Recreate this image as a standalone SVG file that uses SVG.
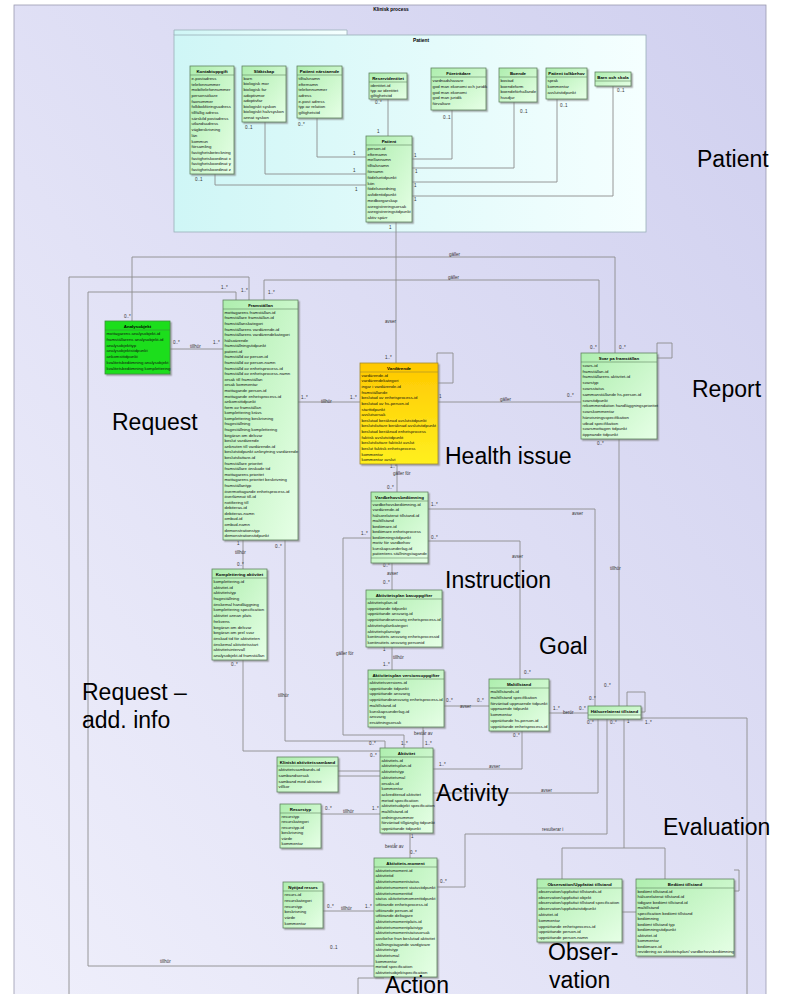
<svg xmlns="http://www.w3.org/2000/svg" width="786" height="994" viewBox="0 0 786 994">
<defs>
<linearGradient id="bg" x1="1" y1="0" x2="0" y2="1"><stop offset="0" stop-color="#d0d0ef"/><stop offset="1" stop-color="#efeffb"/></linearGradient>
<linearGradient id="pk" x1="0" y1="0" x2="1" y2="0"><stop offset="0" stop-color="#cff6f6"/><stop offset="1" stop-color="#f5ffff"/></linearGradient>
<linearGradient id="gr" x1="0" y1="0" x2="1" y2="1"><stop offset="0" stop-color="#aeeeae"/><stop offset="1" stop-color="#e6ffe6"/></linearGradient>
<linearGradient id="ye" x1="0" y1="0" x2="0" y2="1"><stop offset="0" stop-color="#ffc800"/><stop offset="1" stop-color="#fff020"/></linearGradient>
<filter id="sh" x="-10%" y="-10%" width="130%" height="130%"><feDropShadow dx="1.5" dy="1.5" stdDeviation="0.6" flood-color="#777" flood-opacity="0.6"/></filter>
<style>
.bx{fill:url(#gr);stroke:#5f835f;stroke-width:0.8;filter:url(#sh)}
.bx2{fill:#1ede1e;stroke:#3a8f3a;stroke-width:0.8;filter:url(#sh)}
.bx3{fill:url(#ye);stroke:#a08a30;stroke-width:0.8;filter:url(#sh)}
.sep{stroke:#5f835f;stroke-width:0.6}
.hd{font-family:"Liberation Sans",Arial,sans-serif;font-weight:bold;font-size:4.4px;text-anchor:middle;fill:#000}
.at{font-family:"Liberation Sans",Arial,sans-serif;font-size:4.3px;fill:#111}
.ml{font-family:"Liberation Sans",Arial,sans-serif;font-size:4.5px;fill:#333}
.big{font-family:"Liberation Sans",Arial,sans-serif;font-size:23px;fill:#000}
.ln{fill:none;stroke:#8c8c8c;stroke-width:0.9}
</style>
</defs>
<rect x="0" y="0" width="786" height="994" fill="#ffffff"/>
<rect x="14" y="5" width="752" height="995" fill="url(#bg)" stroke="#9a9ab0" stroke-width="0.8"/>
<text x="391" y="11" class="hd" style="font-size:4.8px">Klinisk process</text>

<g id="pkg-patient">
<path d="M174 35 V30 H347 V35" fill="url(#pk)" stroke="#9ab0b8" stroke-width="0.8"/>
<rect x="174" y="35" width="472" height="197" fill="url(#pk)" stroke="#9ab0b8" stroke-width="0.8"/>
<text x="413" y="42" class="hd" style="text-anchor:start;font-size:4.8px">Patient</text>
</g>

<g id="connectors">
<path class="ln" d="M215 174 V185 H366"/>
<path class="ln" d="M265 122 V174 H366"/>
<path class="ln" d="M317 118 V157 H366"/>
<path class="ln" d="M388 99 V136"/>
<path class="ln" d="M452 110 V159 H412"/>
<path class="ln" d="M514 102 V168 H412"/>
<path class="ln" d="M557 99 V182 H412"/>
<path class="ln" d="M613 86 V196 H412"/>
<path class="ln" d="M396 222 V363"/>
<path class="ln" d="M132 321 V257 H615 V353"/>
<path class="ln" d="M264 300 V280 H599 V353"/>
<path class="ln" d="M236 300 V292 H88 V966 H374"/>
<path class="ln" d="M249 300 V277 H69 V994"/>
<path class="ln" d="M170 349 H223"/>
<path class="ln" d="M298 402 H360"/>
<path class="ln" d="M438 402 H581"/>
<path class="ln" d="M437 363 V353 H453 V383 H438"/>
<path class="ln" d="M657 353 V343 H672 V358 H657"/>
<path class="ln" d="M397 464 V492"/>
<path class="ln" d="M392 563 V590"/>
<path class="ln" d="M392 647 V670"/>
<path class="ln" d="M243 540 V569"/>
<path class="ln" d="M243 660 V751 H380"/>
<path class="ln" d="M285 540 V741 H385 V748"/>
<path class="ln" d="M371 538 H343 V735 H404 V748"/>
<path class="ln" d="M423 727 V748"/>
<path class="ln" d="M428 509 H595 V706"/>
<path class="ln" d="M428 541 H520 V679"/>
<path class="ln" d="M619 439 V706"/>
<path class="ln" d="M444 706 H489"/>
<path class="ln" d="M549 713 H588"/>
<path class="ln" d="M433 769 H522 V731"/>
<path class="ln" d="M433 793 H598 V719"/>
<path class="ln" d="M437 887 H465 V834 H607 V719"/>
<path class="ln" d="M624 719 V848 M562 848 H665 M562 848 V879 M665 848 V879"/>
<path class="ln" d="M622 912 H636"/>
<path class="ln" d="M641 718 H747 V994"/>
<path class="ln" d="M627 706 V692 H645 V712 H641"/>
<path class="ln" d="M338 771 H380 M338 776 H380"/>
<path class="ln" d="M321 814 H380"/>
<path class="ln" d="M410 833 V858"/>
<path class="ln" d="M323 911 H374"/>
<path class="ln" d="M734 870 H739 V891 H734"/>
<path class="ln" d="M358 994 V978 H384"/>
</g>

<g id="labels">
<text class="ml" x="195" y="181">0..1</text>
<text class="ml" x="245" y="129">0..1</text>
<text class="ml" x="298" y="126">0..*</text>
<text class="ml" x="375" y="104">0..*</text>
<text class="ml" x="377" y="133">1</text>
<text class="ml" x="353" y="155">1</text>
<text class="ml" x="353" y="172">1</text>
<text class="ml" x="355" y="191">1</text>
<text class="ml" x="443" y="119">0..1</text>
<text class="ml" x="520" y="113">0..1</text>
<text class="ml" x="560" y="107">0..1</text>
<text class="ml" x="617" y="92">0..1</text>
<text class="ml" x="414" y="157">1</text>
<text class="ml" x="415" y="173">1</text>
<text class="ml" x="414" y="187">1</text>
<text class="ml" x="414" y="201">1</text>
<text class="ml" x="389" y="229">1</text>
<text class="ml" x="385" y="323">avser</text>
<text class="ml" x="385" y="359">1..*</text>
<text class="ml" x="124" y="318">0..*</text>
<text class="ml" x="449" y="256">gäller</text>
<text class="ml" x="619" y="349">0..*</text>
<text class="ml" x="268" y="294">1..*</text>
<text class="ml" x="448" y="279">gäller</text>
<text class="ml" x="590" y="349">0..*</text>
<text class="ml" x="221" y="289">1..*</text>
<text class="ml" x="241" y="292">1..*</text>
<text class="ml" x="160" y="963">tillhör</text>
<text class="ml" x="330" y="949">0..1</text>
<text class="ml" x="173" y="344">0..*</text>
<text class="ml" x="190" y="348">tillhör</text>
<text class="ml" x="213" y="344">1..*</text>
<text class="ml" x="301" y="399">1..*</text>
<text class="ml" x="321" y="403">tillhör</text>
<text class="ml" x="350" y="399">1..*</text>
<text class="ml" x="439" y="398">1</text>
<text class="ml" x="500" y="401">gäller</text>
<text class="ml" x="567" y="397">0..*</text>
<text class="ml" x="390" y="468">1..*</text>
<text class="ml" x="393" y="475">gäller för</text>
<text class="ml" x="387" y="489">0..*</text>
<text class="ml" x="383" y="567">0..*</text>
<text class="ml" x="387" y="575">avser</text>
<text class="ml" x="383" y="584">0..*</text>
<text class="ml" x="383" y="651">1</text>
<text class="ml" x="393" y="659">tillhör</text>
<text class="ml" x="383" y="666">1..*</text>
<text class="ml" x="237" y="545">1</text>
<text class="ml" x="235" y="554">tillhör</text>
<text class="ml" x="237" y="566">0..*</text>
<text class="ml" x="231" y="666">0..*</text>
<text class="ml" x="370" y="757">0..*</text>
<text class="ml" x="275" y="548">0..*</text>
<text class="ml" x="278" y="697">tillhör</text>
<text class="ml" x="369" y="745">0..*</text>
<text class="ml" x="361" y="535">1..*</text>
<text class="ml" x="336" y="655">gäller för</text>
<text class="ml" x="401" y="745">1..*</text>
<text class="ml" x="414" y="735">består av</text>
<text class="ml" x="425" y="745">1..*</text>
<text class="ml" x="431" y="506">1..*</text>
<text class="ml" x="572" y="515">avser</text>
<text class="ml" x="589" y="700">0..*</text>
<text class="ml" x="431" y="539">0..*</text>
<text class="ml" x="512" y="558">avser</text>
<text class="ml" x="524" y="674">0..*</text>
<text class="ml" x="597" y="445">0..*</text>
<text class="ml" x="610" y="570">tillhör</text>
<text class="ml" x="604" y="687">0..*</text>
<text class="ml" x="446" y="702">0..*</text>
<text class="ml" x="460" y="708">avser</text>
<text class="ml" x="477" y="702">0..*</text>
<text class="ml" x="553" y="710">1..*</text>
<text class="ml" x="563" y="714">berör</text>
<text class="ml" x="579" y="710">0..*</text>
<text class="ml" x="439" y="766">1..*</text>
<text class="ml" x="489" y="768">avser</text>
<text class="ml" x="513" y="737">0..*</text>
<text class="ml" x="541" y="792">avser</text>
<text class="ml" x="587" y="724">0..*</text>
<text class="ml" x="440" y="883">0..*</text>
<text class="ml" x="542" y="831">resulterar i</text>
<text class="ml" x="610" y="724">0..*</text>
<text class="ml" x="627" y="723">1</text>
<text class="ml" x="645" y="724">1..*</text>
<text class="ml" x="325" y="810">0..*</text>
<text class="ml" x="343" y="813">tillhör</text>
<text class="ml" x="372" y="810">1..*</text>
<text class="ml" x="411" y="838">1</text>
<text class="ml" x="385" y="848">består av</text>
<text class="ml" x="410" y="854">0..*</text>
<text class="ml" x="327" y="908">0..*</text>
<text class="ml" x="341" y="910">tillhör</text>
<text class="ml" x="365" y="908">1..*</text>
</g>

<g id="n-kontaktuppgift">
<rect class="bx" x="190" y="66" width="44" height="108"/>
<text class="hd" x="212" y="72.5">Kontaktuppgift</text>
<line class="sep" x1="190" y1="75" x2="234" y2="75"/>
<text class="at" y="79.8"><tspan x="191.5">e-postadress</tspan><tspan x="191.5" dy="5.7">telefonnummer</tspan><tspan x="191.5" dy="5.7">mobiltelefonnummer</tspan><tspan x="191.5" dy="5.7">personsökare</tspan><tspan x="191.5" dy="5.7">faxnummer</tspan><tspan x="191.5" dy="5.7">folkbokföringsadress</tspan><tspan x="191.5" dy="5.7">tillfällig adress</tspan><tspan x="191.5" dy="5.7">särskild postadress</tspan><tspan x="191.5" dy="5.7">utlandsadress</tspan><tspan x="191.5" dy="5.7">vägbeskrivning</tspan><tspan x="191.5" dy="5.7">län</tspan><tspan x="191.5" dy="5.7">kommun</tspan><tspan x="191.5" dy="5.7">församling</tspan><tspan x="191.5" dy="5.7">fastighetsbeteckning</tspan><tspan x="191.5" dy="5.7">fastighetskoordinat x</tspan><tspan x="191.5" dy="5.7">fastighetskoordinat y</tspan><tspan x="191.5" dy="5.7">fastighetskoordinat z</tspan></text>
</g>

<g id="n-slaktskap">
<rect class="bx" x="242" y="66" width="44" height="56"/>
<text class="hd" x="264" y="72.5">Släktskap</text>
<line class="sep" x1="242" y1="75" x2="286" y2="75"/>
<text class="at" y="79.8"><tspan x="243.5">barn</tspan><tspan x="243.5" dy="5.6">biologisk mor</tspan><tspan x="243.5" dy="5.6">biologisk far</tspan><tspan x="243.5" dy="5.6">adoptivmor</tspan><tspan x="243.5" dy="5.6">adoptivfar</tspan><tspan x="243.5" dy="5.6">biologiskt syskon</tspan><tspan x="243.5" dy="5.6">biologiskt halvsyskon</tspan><tspan x="243.5" dy="5.6">annat syskon</tspan></text>
</g>

<g id="n-patient-narstaende">
<rect class="bx" x="297" y="66" width="45" height="52"/>
<text class="hd" x="319.5" y="72.5">Patient närstående</text>
<line class="sep" x1="297" y1="75" x2="342" y2="75"/>
<text class="at" y="79.8"><tspan x="298.5">tilltalsnamn</tspan><tspan x="298.5" dy="5.7">efternamn</tspan><tspan x="298.5" dy="5.7">telefonnummer</tspan><tspan x="298.5" dy="5.7">adress</tspan><tspan x="298.5" dy="5.7">e-post adress</tspan><tspan x="298.5" dy="5.7">typ av relation</tspan><tspan x="298.5" dy="5.7">giltighetstid</tspan></text>
</g>

<g id="n-reservidentitet">
<rect class="bx" x="369" y="73" width="38" height="26"/>
<text class="hd" x="388" y="79.5">Reservidentitet</text>
<line class="sep" x1="369" y1="82" x2="407" y2="82"/>
<text class="at" y="86.5"><tspan x="370.5">identitet-id</tspan><tspan x="370.5" dy="5">typ av identitet</tspan><tspan x="370.5" dy="5">giltighetstid</tspan></text>
</g>

<g id="n-patient">
<rect class="bx" x="366" y="136" width="46" height="86"/>
<text class="hd" x="389" y="142.5">Patient</text>
<line class="sep" x1="366" y1="145" x2="412" y2="145"/>
<text class="at" y="149.9"><tspan x="367.5">person-id</tspan><tspan x="367.5" dy="5.77">efternamn</tspan><tspan x="367.5" dy="5.77">mellannamn</tspan><tspan x="367.5" dy="5.77">tilltalsnamn</tspan><tspan x="367.5" dy="5.77">förnamn</tspan><tspan x="367.5" dy="5.77">födelsetidpunkt</tspan><tspan x="367.5" dy="5.77">kön</tspan><tspan x="367.5" dy="5.77">födelseordning</tspan><tspan x="367.5" dy="5.77">avlidentidpunkt</tspan><tspan x="367.5" dy="5.77">medborgarskap</tspan><tspan x="367.5" dy="5.77">avregistreringsorsak</tspan><tspan x="367.5" dy="5.77">avregistreringstidpunkt</tspan><tspan x="367.5" dy="5.77">aktiv spärr</tspan></text>
</g>

<g id="n-foretradare">
<rect class="bx" x="431" y="68" width="55" height="42"/>
<text class="hd" x="458.5" y="74.5">Företrädare</text>
<line class="sep" x1="431" y1="77" x2="486" y2="77"/>
<text class="at" y="81.9"><tspan x="432.5">vårdnadshavare</tspan><tspan x="432.5" dy="5.8">god man ekonomi och juridik</tspan><tspan x="432.5" dy="5.8">god man ekonomi</tspan><tspan x="432.5" dy="5.8">god man juridik</tspan><tspan x="432.5" dy="5.8">förvaltare</tspan></text>
</g>

<g id="n-boende">
<rect class="bx" x="499" y="68" width="38" height="34"/>
<text class="hd" x="518" y="74.5">Boende</text>
<line class="sep" x1="499" y1="77" x2="537" y2="77"/>
<text class="at" y="81.9"><tspan x="500.5">bostad</tspan><tspan x="500.5" dy="5.75">boendeform</tspan><tspan x="500.5" dy="5.75">boendeförhållande</tspan><tspan x="500.5" dy="5.75">husdjur</tspan></text>
</g>

<g id="n-patient-tolkbehov">
<rect class="bx" x="546" y="68" width="41" height="31"/>
<text class="hd" x="566.5" y="74.5">Patient tolkbehov</text>
<line class="sep" x1="546" y1="77" x2="587" y2="77"/>
<text class="at" y="81.9"><tspan x="547.5">språk</tspan><tspan x="547.5" dy="5.8">kommentar</tspan><tspan x="547.5" dy="5.8">avslutstidpunkt</tspan></text>
</g>

<g id="n-barn-och-skola">
<rect class="bx" x="595" y="72" width="36" height="14"/>
<text class="hd" x="613" y="78.5">Barn och skola</text>
<line class="sep" x1="595" y1="81" x2="631" y2="81"/>
</g>

<g id="n-analysobjekt">
<rect class="bx2" x="105" y="321" width="65" height="53"/>
<text class="hd" x="137.5" y="327.5">Analysobjekt</text>
<line class="sep" x1="105" y1="330" x2="170" y2="330" style="stroke:#3a8f3a"/>
<text class="at" y="334.9"><tspan x="106.5">mottagarens analysobjekt-id</tspan><tspan x="106.5" dy="5.8">framställarens analysobjekt-id</tspan><tspan x="106.5" dy="5.8">analysobjekttyp</tspan><tspan x="106.5" dy="5.8">analysobjektstidpunkt</tspan><tspan x="106.5" dy="5.8">ankomsttidpunkt</tspan><tspan x="106.5" dy="5.8">kvalitetsbedömning analysobjekt</tspan><tspan x="106.5" dy="5.8">kvalitetsbedömning komplettering</tspan></text>
</g>

<g id="n-framstallan">
<rect class="bx" x="223" y="300" width="75" height="240"/>
<text class="hd" x="260.5" y="306.5">Framställan</text>
<line class="sep" x1="223" y1="309" x2="298" y2="309"/>
<text class="at" y="313.8"><tspan x="224.5">mottagarens framställan-id</tspan><tspan x="224.5" dy="5.585">framställare framställan-id</tspan><tspan x="224.5" dy="5.585">framställanskategori</tspan><tspan x="224.5" dy="5.585">framställarens vårdärende-id</tspan><tspan x="224.5" dy="5.585">framställarens vårdärendekategori</tspan><tspan x="224.5" dy="5.585">hälsoärende</tspan><tspan x="224.5" dy="5.585">framställningstidpunkt</tspan><tspan x="224.5" dy="5.585">patient-id</tspan><tspan x="224.5" dy="5.585">framställd av person-id</tspan><tspan x="224.5" dy="5.585">framställd av person-namn</tspan><tspan x="224.5" dy="5.585">framställd av enhetsprocess-id</tspan><tspan x="224.5" dy="5.585">framställd av enhetsprocess-namn</tspan><tspan x="224.5" dy="5.585">orsak till framställan</tspan><tspan x="224.5" dy="5.585">orsak kommentar</tspan><tspan x="224.5" dy="5.585">mottagande person-id</tspan><tspan x="224.5" dy="5.585">mottagande enhetsprocess-id</tspan><tspan x="224.5" dy="5.585">ankomsttidpunkt</tspan><tspan x="224.5" dy="5.585">form av framställan</tspan><tspan x="224.5" dy="5.585">komplettering krävs</tspan><tspan x="224.5" dy="5.585">komplettering beskrivning</tspan><tspan x="224.5" dy="5.585">frågeställning</tspan><tspan x="224.5" dy="5.585">frågeställning komplettering</tspan><tspan x="224.5" dy="5.585">begäran om delsvar</tspan><tspan x="224.5" dy="5.585">beslut vårdärende</tspan><tspan x="224.5" dy="5.585">anknuten till vårdärende-id</tspan><tspan x="224.5" dy="5.585">beslutstidpunkt anknytning vårdärende</tspan><tspan x="224.5" dy="5.585">beslutsfattare-id</tspan><tspan x="224.5" dy="5.585">framställare prioritet</tspan><tspan x="224.5" dy="5.585">framställare önskade tid</tspan><tspan x="224.5" dy="5.585">mottagarens prioritet</tspan><tspan x="224.5" dy="5.585">mottagarens prioritet beskrivning</tspan><tspan x="224.5" dy="5.585">framställantyp</tspan><tspan x="224.5" dy="5.585">övermottagande enhetsprocess-id</tspan><tspan x="224.5" dy="5.585">överlämnat till-id</tspan><tspan x="224.5" dy="5.585">notifiering till</tspan><tspan x="224.5" dy="5.585">debiteras-id</tspan><tspan x="224.5" dy="5.585">debiteras-namn</tspan><tspan x="224.5" dy="5.585">ombud-id</tspan><tspan x="224.5" dy="5.585">ombud-namn</tspan><tspan x="224.5" dy="5.585">demonstrationstyp</tspan><tspan x="224.5" dy="5.585">demonstrationstidpunkt</tspan></text>
</g>

<g id="n-vardarende">
<rect class="bx3" x="360" y="363" width="78" height="101"/>
<text class="hd" x="399" y="369.5">Vårdärende</text>
<line class="sep" x1="360" y1="372" x2="438" y2="372" style="stroke:#a08a30"/>
<text class="at" y="376.8"><tspan x="361.5">vårdärende-id</tspan><tspan x="361.5" dy="5.625">vårdärendekategori</tspan><tspan x="361.5" dy="5.625">ingår i vårdärende-id</tspan><tspan x="361.5" dy="5.625">framställande</tspan><tspan x="361.5" dy="5.625">beslutad av enhetsprocess-id</tspan><tspan x="361.5" dy="5.625">beslutad av hs-person-id</tspan><tspan x="361.5" dy="5.625">starttidpunkt</tspan><tspan x="361.5" dy="5.625">avslutsorsak</tspan><tspan x="361.5" dy="5.625">beslutad beräknad avslutstidpunkt</tspan><tspan x="361.5" dy="5.625">beslutsfattare beräknad avslutstidpunkt</tspan><tspan x="361.5" dy="5.625">beslutad beräknad enhetsprocess</tspan><tspan x="361.5" dy="5.625">faktisk avslutstidpunkt</tspan><tspan x="361.5" dy="5.625">beslutsfattare faktiskt avslut</tspan><tspan x="361.5" dy="5.625">beslut faktisk enhetsprocess</tspan><tspan x="361.5" dy="5.625">kommentar</tspan><tspan x="361.5" dy="5.625">kommentar avslut</tspan></text>
</g>

<g id="n-svar">
<rect class="bx" x="581" y="353" width="76" height="86"/>
<text class="hd" x="619" y="359.5">Svar på framställan</text>
<line class="sep" x1="581" y1="362" x2="657" y2="362"/>
<text class="at" y="366.9"><tspan x="582.5">svars-id</tspan><tspan x="582.5" dy="5.77">framställan-id</tspan><tspan x="582.5" dy="5.77">framställarens aktivitet-id</tspan><tspan x="582.5" dy="5.77">svarstyp</tspan><tspan x="582.5" dy="5.77">svarsstatus</tspan><tspan x="582.5" dy="5.77">sammanställande hs-person-id</tspan><tspan x="582.5" dy="5.77">svarstidpunkt</tspan><tspan x="582.5" dy="5.77">rekommendation handläggningsprioritet</tspan><tspan x="582.5" dy="5.77">svarskommentar</tspan><tspan x="582.5" dy="5.77">hänvisningsspecifikation</tspan><tspan x="582.5" dy="5.77">utbud specifikation</tspan><tspan x="582.5" dy="5.77">svarsmottagen tidpunkt</tspan><tspan x="582.5" dy="5.77">öppnande tidpunkt</tspan></text>
</g>

<g id="n-vardbehovsbedomning">
<rect class="bx" x="371" y="492" width="57" height="71"/>
<text class="hd" x="399.5" y="498.5">Vårdbehovsbedömning</text>
<line class="sep" x1="371" y1="501" x2="428" y2="501"/>
<text class="at" y="505.7"><tspan x="372.5">vårdbehovsbedömning-id</tspan><tspan x="372.5" dy="5.5">vårdärende-id</tspan><tspan x="372.5" dy="5.5">hälsorelaterat tillstånd-id</tspan><tspan x="372.5" dy="5.5">måltillstånd</tspan><tspan x="372.5" dy="5.5">bedömare-id</tspan><tspan x="372.5" dy="5.5">bedömare enhetsprocess</tspan><tspan x="372.5" dy="5.5">bedömningstidpunkt</tspan><tspan x="372.5" dy="5.5">motiv för vårdbehov</tspan><tspan x="372.5" dy="5.5">kunskapsunderlag-id</tspan><tspan x="372.5" dy="5.5">patientens ställningstagande</tspan></text>
<line class="sep" x1="371" y1="558" x2="428" y2="558"/>
</g>

<g id="n-aktivitetsplan-bas">
<rect class="bx" x="366" y="590" width="76" height="57"/>
<text class="hd" x="404" y="596.5">Aktivitetsplan basuppgifter</text>
<line class="sep" x1="366" y1="599" x2="442" y2="599"/>
<text class="at" y="603.9"><tspan x="367.5">aktivitetsplan-id</tspan><tspan x="367.5" dy="5.75">upprättande tidpunkt</tspan><tspan x="367.5" dy="5.75">upprättande ansvarig-id</tspan><tspan x="367.5" dy="5.75">upprättandeansvarig enhetsprocess-id</tspan><tspan x="367.5" dy="5.75">aktivitetsplankategori</tspan><tspan x="367.5" dy="5.75">aktivitetsplanstyp</tspan><tspan x="367.5" dy="5.75">kontinuitets ansvarig enhetsprocessid</tspan><tspan x="367.5" dy="5.75">kontinuitets ansvarig personid</tspan></text>
</g>

<g id="n-aktivitetsplan-version">
<rect class="bx" x="368" y="670" width="76" height="57"/>
<text class="hd" x="406" y="676.5">Aktivitetsplan versionsuppgifter</text>
<line class="sep" x1="368" y1="679" x2="444" y2="679"/>
<text class="at" y="683.9"><tspan x="369.5">aktivitetsversions-id</tspan><tspan x="369.5" dy="5.75">upprättande tidpunkt</tspan><tspan x="369.5" dy="5.75">upprättande ansvarig</tspan><tspan x="369.5" dy="5.75">upprättandeansvarig enhetsprocess-id</tspan><tspan x="369.5" dy="5.75">måltillstånd-id</tspan><tspan x="369.5" dy="5.75">kunskapsunderlag-id</tspan><tspan x="369.5" dy="5.75">ansvarig</tspan><tspan x="369.5" dy="5.75">ersättningsorsak</tspan></text>
</g>

<g id="n-maltillstand">
<rect class="bx" x="489" y="679" width="60" height="52"/>
<text class="hd" x="519" y="685.5">Måltillstånd</text>
<line class="sep" x1="489" y1="688" x2="549" y2="688"/>
<text class="at" y="692.9"><tspan x="490.5">måltillstånds-id</tspan><tspan x="490.5" dy="5.86">måltillstånd specifikation</tspan><tspan x="490.5" dy="5.86">förväntad uppnående tidpunkt</tspan><tspan x="490.5" dy="5.86">uppnående tidpunkt</tspan><tspan x="490.5" dy="5.86">kommentar</tspan><tspan x="490.5" dy="5.86">upprättande hs-person-id</tspan><tspan x="490.5" dy="5.86">upprättande enhetsprocess-id</tspan></text>
</g>

<g id="n-halsorelaterat-tillstand">
<rect class="bx" x="588" y="706" width="53" height="13"/>
<text class="hd" x="614.5" y="712.5">Hälsorelaterat tillstånd</text>
<line class="sep" x1="588" y1="715" x2="641" y2="715"/>
</g>

<g id="n-observation">
<rect class="bx" x="537" y="879" width="85" height="63"/>
<text class="hd" x="579.5" y="885.5">Observation/Uppfattat tillstånd</text>
<line class="sep" x1="537" y1="888" x2="622" y2="888"/>
<text class="at" y="892.9"><tspan x="538.5">observation/uppfattat tillstånds-id</tspan><tspan x="538.5" dy="5.78">observation/uppfattat objekt</tspan><tspan x="538.5" dy="5.78">observation/uppfattat tillstånd specification</tspan><tspan x="538.5" dy="5.78">observation/uppfattatstidpunkt</tspan><tspan x="538.5" dy="5.78">aktivitet-id</tspan><tspan x="538.5" dy="5.78">kommentar</tspan><tspan x="538.5" dy="5.78">upprättande enhetsprocess-id</tspan><tspan x="538.5" dy="5.78">upprättande person-id</tspan><tspan x="538.5" dy="5.78">upprättande person-namn</tspan></text>
</g>

<g id="n-bedomt-tillstand">
<rect class="bx" x="636" y="879" width="98" height="77"/>
<text class="hd" x="685" y="885.5">Bedömt tillstånd</text>
<line class="sep" x1="636" y1="888" x2="734" y2="888"/>
<text class="at" y="892.7"><tspan x="637.5">bedömt tillstånd-id</tspan><tspan x="637.5" dy="5.5">hälsorelaterat tillstånd-id</tspan><tspan x="637.5" dy="5.5">tidigare bedömt tillstånd-id</tspan><tspan x="637.5" dy="5.5">måltillstånd</tspan><tspan x="637.5" dy="5.5">specification bedömt tillstånd</tspan><tspan x="637.5" dy="5.5">bedömning</tspan><tspan x="637.5" dy="5.5">bedömt tillstånd typ</tspan><tspan x="637.5" dy="5.5">bedömningstidpunkt</tspan><tspan x="637.5" dy="5.5">aktivitet-id</tspan><tspan x="637.5" dy="5.5">kommentar</tspan><tspan x="637.5" dy="5.5">bedömare-id</tspan><tspan x="637.5" dy="5.5">revidering av aktivitetsplan/ vårdbehovsbedömning</tspan></text>
</g>

<g id="n-aktivitet">
<rect class="bx" x="380" y="748" width="53" height="85"/>
<text class="hd" x="406.5" y="754.5">Aktivitet</text>
<line class="sep" x1="380" y1="757" x2="433" y2="757"/>
<text class="at" y="761.8"><tspan x="381.5">aktivitets-id</tspan><tspan x="381.5" dy="5.69">aktivitetsplan-id</tspan><tspan x="381.5" dy="5.69">aktivitetstyp</tspan><tspan x="381.5" dy="5.69">aktivitetsmål</tspan><tspan x="381.5" dy="5.69">orsaks-id</tspan><tspan x="381.5" dy="5.69">kommentar</tspan><tspan x="381.5" dy="5.69">ackrediterad aktivitet</tspan><tspan x="381.5" dy="5.69">metod specification</tspan><tspan x="381.5" dy="5.69">aktivitetsobjekt specification</tspan><tspan x="381.5" dy="5.69">måltillstånd-id</tspan><tspan x="381.5" dy="5.69">ordningsnummer</tspan><tspan x="381.5" dy="5.69">förväntad tillgänglig tidpunkt</tspan><tspan x="381.5" dy="5.69">upprättande tidpunkt</tspan></text>
</g>

<g id="n-kliniskt-aktivitetssamband">
<rect class="bx" x="277" y="757" width="61" height="35"/>
<text class="hd" x="307.5" y="763.5">Kliniskt aktivitetssamband</text>
<line class="sep" x1="277" y1="766" x2="338" y2="766"/>
<text class="at" y="770.9"><tspan x="278.5">aktivitetssambands-id</tspan><tspan x="278.5" dy="5.8">sambandsorsak</tspan><tspan x="278.5" dy="5.8">samband med aktivitet</tspan><tspan x="278.5" dy="5.8">villkor</tspan></text>
</g>

<g id="n-resurstyp">
<rect class="bx" x="280" y="804" width="41" height="44"/>
<text class="hd" x="300.5" y="810.5">Resurstyp</text>
<line class="sep" x1="280" y1="813" x2="321" y2="813"/>
<text class="at" y="817.7"><tspan x="281.5">resurstyp</tspan><tspan x="281.5" dy="5.5">resurskategori</tspan><tspan x="281.5" dy="5.5">resurstyp-id</tspan><tspan x="281.5" dy="5.5">beskrivning</tspan><tspan x="281.5" dy="5.5">värde</tspan><tspan x="281.5" dy="5.5">kommentar</tspan></text>
</g>

<g id="n-aktivitetsmoment">
<rect class="bx" x="374" y="858" width="63" height="119"/>
<text class="hd" x="405.5" y="864.5">Aktivitets-moment</text>
<line class="sep" x1="374" y1="867" x2="437" y2="867"/>
<text class="at" y="871.8"><tspan x="375.5">aktivitetsmoment-id</tspan><tspan x="375.5" dy="5.68">aktivitetid</tspan><tspan x="375.5" dy="5.68">aktivitetsmomentstatus</tspan><tspan x="375.5" dy="5.68">aktivitetsmoment statustidpunkt</tspan><tspan x="375.5" dy="5.68">aktivitetsmomenttid</tspan><tspan x="375.5" dy="5.68">status aktivitetsmomenttidpunkt</tspan><tspan x="375.5" dy="5.68">utförande enhetsprocess-id</tspan><tspan x="375.5" dy="5.68">utförande person-id</tspan><tspan x="375.5" dy="5.68">utförande deltagare</tspan><tspan x="375.5" dy="5.68">aktivitetsmomentplats-id</tspan><tspan x="375.5" dy="5.68">aktivitetsmomentplatstyp</tspan><tspan x="375.5" dy="5.68">aktivitetsmomentstatusorsak</tspan><tspan x="375.5" dy="5.68">avvikelse från beslutad aktivitet</tspan><tspan x="375.5" dy="5.68">ställningstagande vårdgivare</tspan><tspan x="375.5" dy="5.68">aktivitetstyp</tspan><tspan x="375.5" dy="5.68">aktivitetsmål</tspan><tspan x="375.5" dy="5.68">kommentar</tspan><tspan x="375.5" dy="5.68">metod specification</tspan><tspan x="375.5" dy="5.68">aktivitetsobjektspecification</tspan></text>
</g>

<g id="n-nyttjad-resurs">
<rect class="bx" x="283" y="882" width="40" height="46"/>
<text class="hd" x="303" y="888.5">Nyttjad resurs</text>
<line class="sep" x1="283" y1="891" x2="323" y2="891"/>
<text class="at" y="895.9"><tspan x="284.5">resurs-id</tspan><tspan x="284.5" dy="5.83">resurskategori</tspan><tspan x="284.5" dy="5.83">resurstyp</tspan><tspan x="284.5" dy="5.83">beskrivning</tspan><tspan x="284.5" dy="5.83">värde</tspan><tspan x="284.5" dy="5.83">kommentar</tspan></text>
</g>

<g id="n-komplettering">
<rect class="bx" x="212" y="569" width="55" height="91"/>
<text class="hd" x="239.5" y="575.5">Komplettering aktivitet</text>
<line class="sep" x1="212" y1="578" x2="267" y2="578"/>
<text class="at" y="582.9"><tspan x="213.5">komplettering-id</tspan><tspan x="213.5" dy="5.71">aktivitet-id</tspan><tspan x="213.5" dy="5.71">aktivitetstyp</tspan><tspan x="213.5" dy="5.71">frågeställning</tspan><tspan x="213.5" dy="5.71">önskemål handläggning</tspan><tspan x="213.5" dy="5.71">komplettering specification</tspan><tspan x="213.5" dy="5.71">aktivitet annan plats</tspan><tspan x="213.5" dy="5.71">frekvens</tspan><tspan x="213.5" dy="5.71">begäran om delsvar</tspan><tspan x="213.5" dy="5.71">begäran om prel svar</tspan><tspan x="213.5" dy="5.71">önskad tid för aktiviteten</tspan><tspan x="213.5" dy="5.71">önskemål aktivitetsstart</tspan><tspan x="213.5" dy="5.71">aktivitetsintervall</tspan><tspan x="213.5" dy="5.71">analysobjekt-id framställan</tspan></text>
</g>

<g id="annotations">
<text class="big" x="697" y="167">Patient</text>
<text class="big" x="692" y="397">Report</text>
<text class="big" x="112" y="430">Request</text>
<text class="big" x="445" y="464">Health issue</text>
<text class="big" x="445" y="588">Instruction</text>
<text class="big" x="539" y="654">Goal</text>
<text class="big" x="82" y="700">Request –</text>
<text class="big" x="82" y="728">add. info</text>
<text class="big" x="436" y="801">Activity</text>
<text class="big" x="663" y="835">Evaluation</text>
<text class="big" x="548" y="960">Obser-</text>
<text class="big" x="549" y="988">vation</text>
<text class="big" x="385" y="993">Action</text>
</g>
</svg>
